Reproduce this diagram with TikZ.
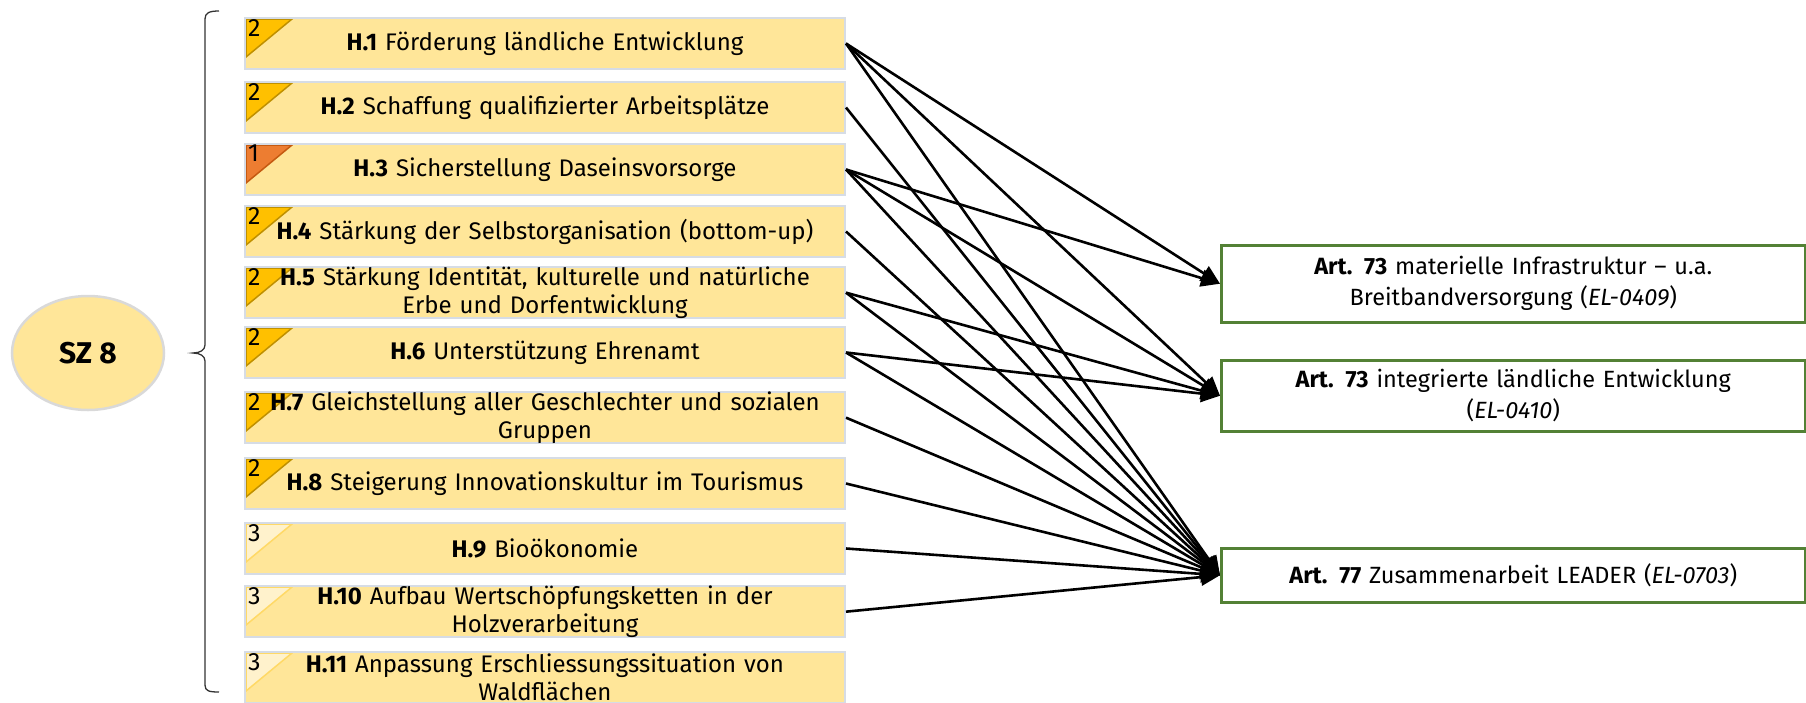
\documentclass[tikz,border=0pt]{standalone}
\usepackage{fontspec}
\setmainfont{Fira Sans}
\usetikzlibrary{arrows.meta,shapes.geometric}
\definecolor{boxfill}{HTML}{FFE699}
\definecolor{boxline}{HTML}{D6DCE5}
\definecolor{tagtwo}{HTML}{FFC000}
\definecolor{tagtwoline}{HTML}{BF9000}
\definecolor{tagone}{HTML}{ED7D31}
\definecolor{tagoneline}{HTML}{C55A11}
\definecolor{tagthree}{HTML}{FFF2CC}
\definecolor{tagthreeline}{HTML}{FFD966}
\definecolor{artline}{HTML}{538135}
\definecolor{ellline}{HTML}{D9D9D9}
\begin{document}
\begin{tikzpicture}[x=1pt,y=-1pt,
  hbox/.style={draw=boxline, line width=2pt, fill=boxfill, minimum width=600pt,
    minimum height=51pt, text width=596pt, align=center, inner sep=0pt,
    font=\fontsize{24}{27.5}\selectfont, anchor=north west},
  tagged/.style n args={2}{path picture={
    \filldraw[fill=#1, draw=#2, line width=1.5pt]
      ([shift={(1,1)}]path picture bounding box.north west) -- ++(46,0) -- ++(-46,38) -- cycle;}},
  two/.style={tagged={tagtwo}{tagtwoline}},
  one/.style={tagged={tagone}{tagoneline}},
  three/.style={tagged={tagthree}{tagthreeline}},
  tagnum/.style={anchor=north west, inner sep=0pt, font=\fontsize{25}{25}\selectfont},
  artbox/.style={draw=artline, line width=2.5pt, fill=white, minimum width=584pt,
    text width=580pt, align=center, inner sep=0pt, anchor=north west,
    font=\fontsize{23.5}{31}\selectfont},
  conn/.style={line width=2.6pt, -{Triangle[length=19pt,width=17pt]}},
  brace/.style={line width=1.3pt, draw=black!80}
]
\useasboundingbox (0,0) rectangle (1806,702);

% goal ellipse
\node[ellipse, draw=ellline, line width=2.5pt, fill=boxfill, minimum width=152pt,
  minimum height=114pt, font=\fontsize{30}{30}\selectfont\bfseries] (sz) at (88,353) {SZ 8};

% brace
\draw[brace] (219,11) .. controls (209,11) and (205,13) .. (205,19) -- (205,345)
  .. controls (205,350) and (200,353) .. (193,353)
  .. controls (200,353) and (205,356) .. (205,361) -- (205,685)
  .. controls (205,691) and (209,692) .. (219,692);

% measures
\node[hbox, two]   (h1)  at (244,17)  {\textbf{H.1} Förderung ländliche Entwicklung};
\node[hbox, two]   (h2)  at (244,81)  {\textbf{H.2} Schaffung qualifizierter Arbeitsplätze};
\node[hbox, one]   (h3)  at (244,143) {\textbf{H.3} Sicherstellung Daseinsvorsorge};
\node[hbox, two]   (h4)  at (244,205) {\textbf{H.4} Stärkung der Selbstorganisation (bottom-up)};
\node[hbox, two]   (h5)  at (244,266) {\textbf{H.5} Stärkung Identität, kulturelle und natürliche\\Erbe und Dorfentwicklung};
\node[hbox, two]   (h6)  at (244,326) {\textbf{H.6} Unterstützung Ehrenamt};
\node[hbox, two]   (h7)  at (244,391) {\textbf{H.7} Gleichstellung aller Geschlechter und sozialen\\Gruppen};
\node[hbox, two]   (h8)  at (244,457) {\textbf{H.8} Steigerung Innovationskultur im Tourismus};
\node[hbox, three] (h9)  at (244,522) {\textbf{H.9} Bioökonomie};
\node[hbox, three] (h10) at (244,585) {\textbf{H.10} Aufbau Wertschöpfungsketten in der\\Holzverarbeitung};
\node[hbox, three] (h11) at (244,651) {\textbf{H.11} Anpassung Erschliessungssituation von\\Waldflächen};

% priority numbers
\foreach \b/\n in {h1/2,h2/2,h3/1,h4/2,h5/2,h6/2,h7/2,h8/2,h9/3,h10/3,h11/3}
  \node[tagnum] (n\b) at ([shift={(4,2)}]\b.north west) {\n};

% articles
\node[artbox, minimum height=77pt] (ta) at (1220,244)
  {\textbf{Art. 73} materielle Infrastruktur – u.a.\\Breitbandversorgung (\textit{EL-0409})};
\node[artbox, minimum height=71pt] (tb) at (1220,359)
  {\textbf{Art. 73} integrierte ländliche Entwicklung\\(\textit{EL-0410})};
\node[artbox, minimum height=54pt] (tc) at (1220,547)
  {\textbf{Art. 77} Zusammenarbeit LEADER (\textit{EL-0703})};

% connectors
\draw[conn] (h1.east) -- (ta.west);
\draw[conn] (h1.east) -- (tb.west);
\draw[conn] (h1.east) -- (tc.west);
\draw[conn] (h2.east) -- (tc.west);
\draw[conn] (h3.east) -- (ta.west);
\draw[conn] (h3.east) -- (tb.west);
\draw[conn] (h3.east) -- (tc.west);
\draw[conn] (h4.east) -- (tc.west);
\draw[conn] (h5.east) -- (tb.west);
\draw[conn] (h5.east) -- (tc.west);
\draw[conn] (h6.east) -- (tb.west);
\draw[conn] (h6.east) -- (tc.west);
\draw[conn] (h7.east) -- (tc.west);
\draw[conn] (h8.east) -- (tc.west);
\draw[conn] (h9.east) -- (tc.west);
\draw[conn] (h10.east) -- (tc.west);
\end{tikzpicture}
\end{document}
